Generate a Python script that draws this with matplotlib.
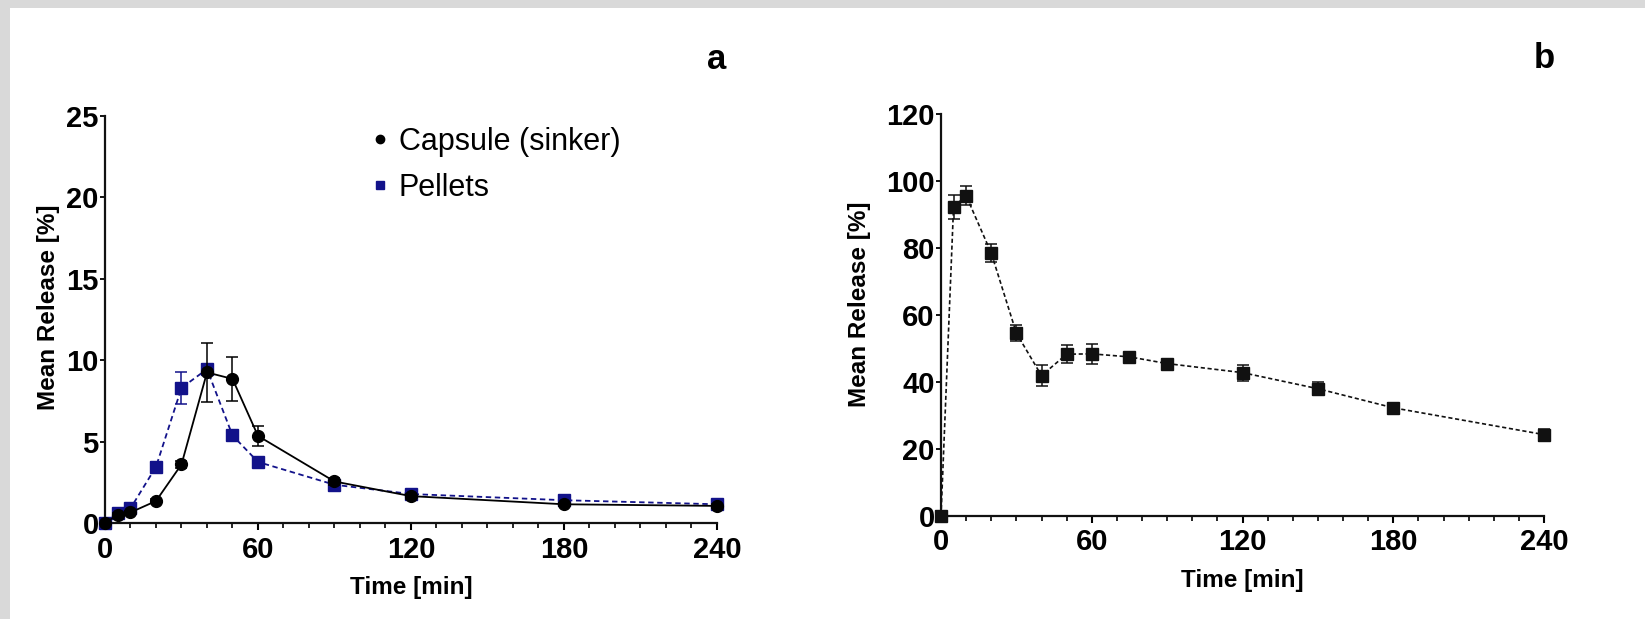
import matplotlib
matplotlib.use("Agg")
import matplotlib.pyplot as plt
from matplotlib.lines import Line2D
from matplotlib.patches import Rectangle
from matplotlib.ticker import MultipleLocator

plt.rcParams['font.family'] = ['Liberation Sans', 'DejaVu Sans']

# ---- data panel a ----
time_a = [0, 5, 10, 20, 30, 40, 50, 60, 90, 120, 180, 240]
capsule = [0, 0.5, 0.65, 1.35, 3.6, 9.25, 8.85, 5.35, 2.55, 1.65, 1.15, 1.05]
capsule_err = [0, 0.1, 0.1, 0.15, 0.2, 1.8, 1.35, 0.6, 0.2, 0.15, 0.1, 0.1]
pellets = [0, 0.62, 0.9, 3.45, 8.3, 9.45, 5.38, 3.75, 2.35, 1.78, 1.4, 1.15]
pellets_err = [0, 0.1, 0.1, 0.3, 1.0, 0.3, 0.2, 0.15, 0.1, 0.1, 0.1, 0.1]

# ---- data panel b ----
time_b = [0, 5, 10, 20, 30, 40, 50, 60, 75, 90, 120, 150, 180, 240]
release_b = [0, 92.3, 95.6, 78.5, 54.6, 41.9, 48.3, 48.4, 47.5, 45.5, 42.8, 38.0, 32.3, 24.3]
release_b_err = [0, 3.6, 2.9, 2.8, 2.4, 3.2, 2.7, 2.9, 1.2, 1.2, 2.4, 2.0, 1.4, 1.8]

xticks = [0, 60, 120, 180, 240]

W, H = 1645, 619
fig = plt.figure(figsize=(W / 100, H / 100), dpi=100)
fig.patch.set_facecolor('white')
# light gray frame (top and left)
fig.patches.append(Rectangle((0, 1 - 8 / H), 1, 8 / H, transform=fig.transFigure,
                             facecolor='#d9d9d9', edgecolor='none', zorder=-10))
fig.patches.append(Rectangle((0, 0), 10 / W, 1, transform=fig.transFigure,
                             facecolor='#d9d9d9', edgecolor='none', zorder=-10))


def px_axes(x0, x1, ytop, ybot):
    return [x0 / W, (H - ybot) / H, (x1 - x0) / W, (ybot - ytop) / H]


ax_a = fig.add_axes(px_axes(105, 717, 116, 523))
ax_b = fig.add_axes(px_axes(941, 1544, 114, 516))

navy = '#12128a'


def style(ax, ymax, ystep):
    ax.set_xlim(0, 240)
    ax.set_ylim(0, ymax)
    for s in ['top', 'right']:
        ax.spines[s].set_visible(False)
    for s in ['left', 'bottom']:
        ax.spines[s].set_linewidth(1.6)
        ax.spines[s].set_color('#111111')
    ax.set_xticks(xticks)
    ax.xaxis.set_minor_locator(MultipleLocator(10))
    ax.yaxis.set_major_locator(MultipleLocator(ystep))
    ax.tick_params(axis='x', which='major', length=5, width=1.5, pad=4,
                   labelsize=21, direction='out')
    ax.tick_params(axis='x', which='minor', length=3.5, width=1.2, direction='out')
    ax.tick_params(axis='y', which='major', length=3.5, width=1.3, pad=1,
                   labelsize=21, direction='out')
    for lab in ax.get_xticklabels() + ax.get_yticklabels():
        lab.set_fontweight('bold')
    ax.set_xlabel('Time [min]', fontsize=17.5, fontweight='bold')
    ax.set_ylabel('Mean Release [%]', fontsize=17.5, fontweight='bold')


# ---- panel a ----
ax_a.errorbar(time_a, pellets, yerr=pellets_err, color=navy, linestyle=(0, (3, 2)),
              linewidth=1.3, marker='s', markersize=8, capsize=4, elinewidth=1.1,
              capthick=1.1, clip_on=False, zorder=3, label='Pellets')
ax_a.errorbar(time_a, capsule, yerr=capsule_err, color='black', linestyle='-',
              linewidth=1.3, marker='o', markersize=8.5, capsize=4, elinewidth=1.1,
              capthick=1.1, clip_on=False, zorder=4, label='Capsule (sinker)')
style(ax_a, 25, 5)
ax_a.xaxis.set_label_coords(0.5, -0.130)
ax_a.yaxis.set_label_coords(-0.074, 0.529)

handles = [Line2D([], [], color='black', marker='o', linestyle='none', markersize=6),
           Line2D([], [], color=navy, marker='s', linestyle='none', markersize=6)]
ax_a.legend(handles, ['Capsule (sinker)', 'Pellets'], loc='upper left',
            bbox_to_anchor=(0.435, 0.973), frameon=False, fontsize=22,
            handlelength=0.6, handletextpad=0.3, labelspacing=0.52, borderpad=0,
            borderaxespad=0)

# ---- panel b ----
ax_b.errorbar(time_b, release_b, yerr=release_b_err, color='#111111',
              linestyle=(0, (2.5, 1.6)), linewidth=1.2, marker='s', markersize=8.5,
              capsize=4, elinewidth=1.1, capthick=1.1, clip_on=False, zorder=3)
style(ax_b, 120, 20)
ax_b.xaxis.set_label_coords(0.5, -0.132)
ax_b.yaxis.set_label_coords(-0.116, 0.526)

# panel letters
fig.text(717 / W, (H - 69) / H, 'a', fontsize=25, fontweight='bold',
         ha='center', va='baseline')
fig.text(1544 / W, (H - 68) / H, 'b', fontsize=25, fontweight='bold',
         ha='center', va='baseline')

fig.savefig('out.png', dpi=100, facecolor='white')
